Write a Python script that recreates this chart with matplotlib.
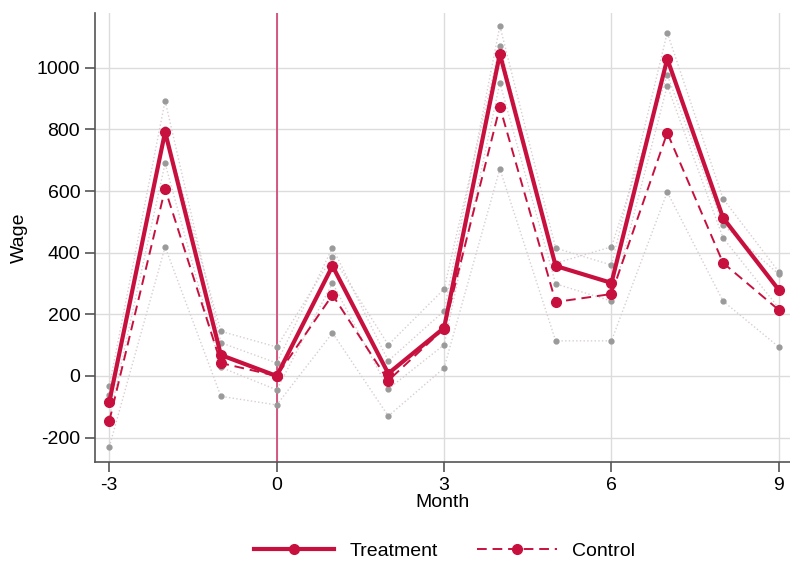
import matplotlib
matplotlib.use("Agg")
import matplotlib.pyplot as plt
from matplotlib.lines import Line2D

plt.rcParams['font.family'] = ['Liberation Sans', 'DejaVu Sans']
plt.rcParams['axes.unicode_minus'] = False

months = [-3, -2, -1, 0, 1, 2, 3, 4, 5, 6, 7, 8, 9]
treatment = [-84, 792, 68, 0, 357, 8, 156, 1045, 357, 302, 1029, 513, 279]
control = [-146, 607, 42, 0, 263, -15, 154, 873, 240, 266, 789, 367, 214]
treat_hi = [-32, 893, 108, 42, 416, 49, 211, 1136, 415, 360, 1114, 575, 338]
treat_lo = [-136, 690, 28, -45, 302, -42, 101, 951, 299, 243, 942, 448, 220]
ctrl_hi = [-62, 800, 145, 94, 387, 101, 282, 1071, 366, 419, 977, 490, 330]
ctrl_lo = [-230, 419, -66, -94, 140, -130, 26, 672, 114, 114, 597, 243, 94]

xticks = [-3, 0, 3, 6, 9]
yticks = [-200, 0, 200, 400, 600, 800, 1000]

red = '#c8103e'

fig = plt.figure(figsize=(7.9, 5.61), dpi=100)
ax = fig.add_axes([0.120, 0.1765, 0.880, 0.8005])

for s in (treat_hi, treat_lo, ctrl_hi, ctrl_lo):
    ax.plot(months, s, linestyle=':', color='#d8ced1', linewidth=1.0,
            marker='o', markersize=3.5, markerfacecolor='#9a9a9a',
            markeredgecolor='#9a9a9a', zorder=2)

ax.axvline(0, color='#d04070', linewidth=1.2, zorder=1.5)

ax.plot(months, control, linestyle=(0, (5, 3)), color=red, linewidth=1.4,
        marker='o', markersize=7, zorder=3)
ax.plot(months, treatment, linestyle='-', color=red, linewidth=3.0,
        marker='o', markersize=7, zorder=4)

ax.set_xlim(-3.26, 9.2)
ax.set_ylim(-279, 1178)
ax.set_xticks(xticks)
ax.set_yticks(yticks)
ax.grid(True, color='#dcdcdc', linewidth=1.0, zorder=0)
ax.set_axisbelow(True)
for sp in ('top', 'right'):
    ax.spines[sp].set_visible(False)
for sp in ('left', 'bottom'):
    ax.spines[sp].set_color('#555555')
    ax.spines[sp].set_linewidth(1.2)
ax.tick_params(axis='both', labelsize=14, length=7, color='#555555', width=1.2)
ax.set_xlabel('Month', fontsize=14, labelpad=0)
ax.set_ylabel('Wage', fontsize=14, labelpad=6)

handles = [
    Line2D([], [], color=red, linewidth=3.0, marker='o', markersize=7),
    Line2D([], [], color=red, linewidth=1.4, linestyle=(0, (5, 3)), marker='o', markersize=7),
]
fig.legend(handles, ['Treatment', 'Control'], loc='center', bbox_to_anchor=(0.563, 0.018),
           ncol=2, frameon=False, fontsize=14, handlelength=4.1, columnspacing=2.0,
           numpoints=1)

fig.savefig('out.png', dpi=100)
